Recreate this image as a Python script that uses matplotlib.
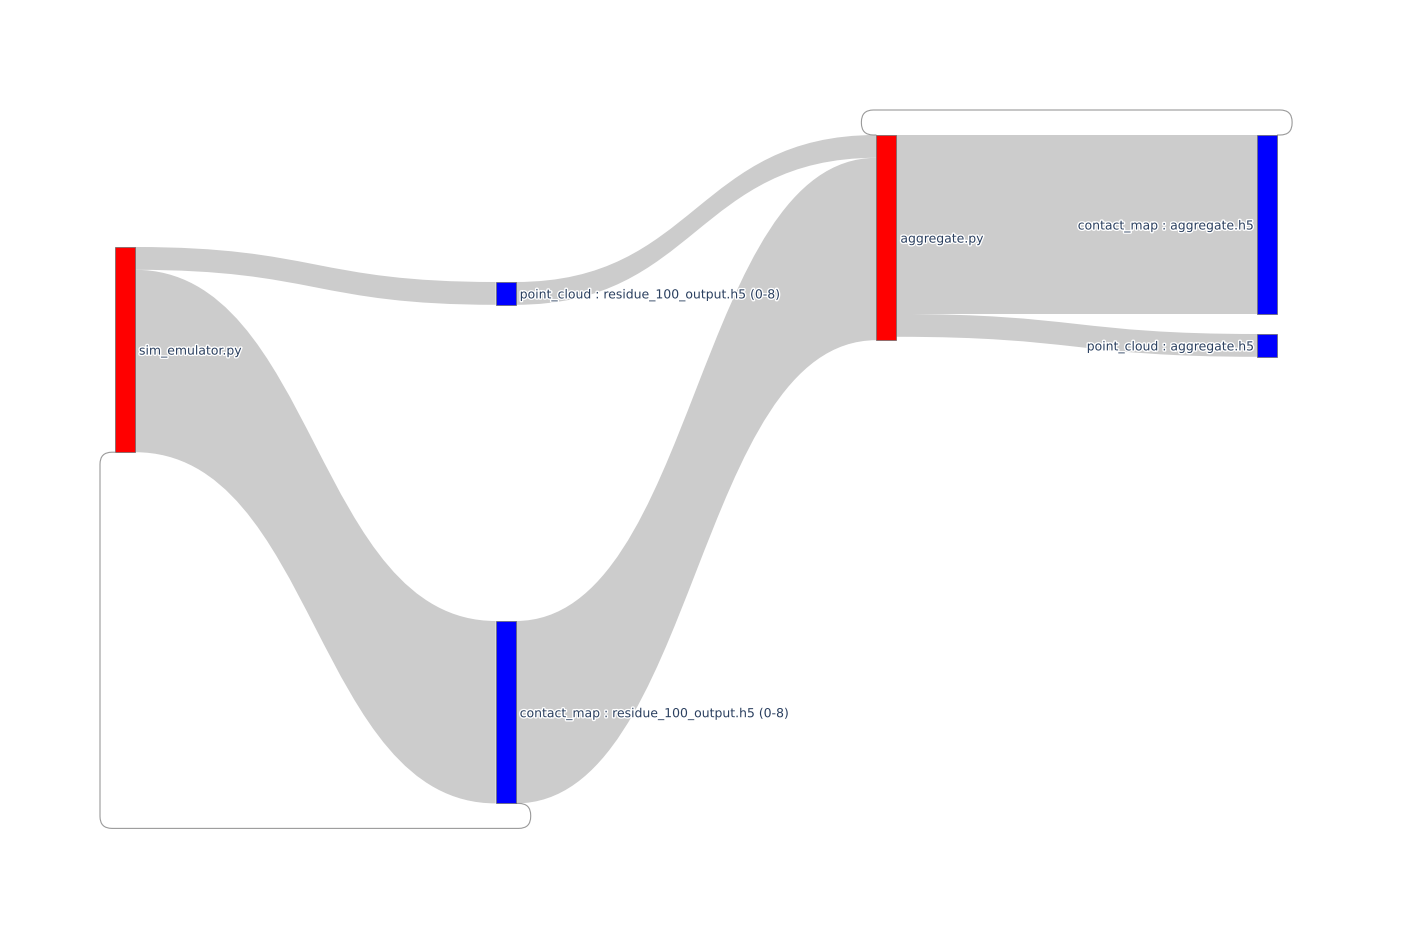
import matplotlib
matplotlib.use("Agg")
import matplotlib.pyplot as plt
from matplotlib.path import Path
from matplotlib.patches import PathPatch, Rectangle
import matplotlib.patheffects as pe

# ---------------- data ----------------
node_labels = [
    "sim_emulator.py",
    "point_cloud : residue_100_output.h5 (0-8)",
    "contact_map : residue_100_output.h5 (0-8)",
    "aggregate.py",
    "contact_map : aggregate.h5",
    "point_cloud : aggregate.h5",
]
node_colors = ["red", "blue", "blue", "red", "blue", "blue"]

link_source = [0, 0, 1, 2, 3, 3, 2, 4]
link_target = [1, 2, 3, 3, 4, 5, 0, 3]
link_value = [1, 8, 1, 8, 7.85, 1, 0, 0]

# ---------------- layout (pixel space) ----------------
W, H = 1424, 948
node_column = [0, 1, 1, 2, 3, 3]
node_top = [247, 282, 621, 135, 135, 334]
col_x0, col_step, node_w = 115, 380.7, 20
px_per_unit = 22.8
loop_side = {6: "bottom", 7: "top"}
loop_dx, loop_dy, loop_r = 15, 25, 12
link_color = "#cccccc"
text_color = "#2a3f5f"

fig = plt.figure(figsize=(W / 100, H / 100), dpi=100)
ax = fig.add_axes([0, 0, 1, 1])
ax.set_xlim(0, W)
ax.set_ylim(H, 0)
ax.axis("off")

n = len(node_labels)
out_sum = [0.0] * n
in_sum = [0.0] * n
for s, t, v in zip(link_source, link_target, link_value):
    out_sum[s] += v
    in_sum[t] += v
node_h = [max(out_sum[i], in_sum[i]) * px_per_unit for i in range(n)]
node_x = [col_x0 + c * col_step for c in node_column]

regular = [k for k in range(len(link_value)) if node_column[link_target[k]] > node_column[link_source[k]]]
src_pos, tgt_pos = {}, {}
for i in range(n):
    outs = sorted([k for k in regular if link_source[k] == i], key=lambda k: node_top[link_target[k]])
    y = node_top[i]
    for k in outs:
        h = link_value[k] * px_per_unit
        src_pos[k] = (y, y + h)
        y += h
    ins = sorted([k for k in regular if link_target[k] == i], key=lambda k: node_top[link_source[k]])
    y = node_top[i]
    for k in ins:
        h = link_value[k] * px_per_unit
        tgt_pos[k] = (y, y + h)
        y += h

# regular ribbons
for k in regular:
    s, t = link_source[k], link_target[k]
    xs = node_x[s] + node_w
    xt = node_x[t]
    xm = (xs + xt) / 2
    s0, s1 = src_pos[k]
    t0, t1 = tgt_pos[k]
    verts = [(xs, s0), (xm, s0), (xm, t0), (xt, t0), (xt, t1), (xm, t1), (xm, s1), (xs, s1), (xs, s0)]
    codes = [Path.MOVETO, Path.CURVE4, Path.CURVE4, Path.CURVE4, Path.LINETO,
             Path.CURVE4, Path.CURVE4, Path.CURVE4, Path.CLOSEPOLY]
    ax.add_patch(PathPatch(Path(verts, codes), facecolor=link_color, edgecolor="none", lw=0, zorder=1))

# circular (backward) links drawn as loops
for k, side in loop_side.items():
    s, t = link_source[k], link_target[k]
    sx = node_x[s] + node_w
    tx = node_x[t]
    xr = sx + loop_dx
    xl = tx - loop_dx
    r = loop_r
    if side == "bottom":
        sy = node_top[s] + node_h[s]
        ty = node_top[t] + node_h[t]
        yb = max(sy, ty) + loop_dy
        sg = 1
    else:
        sy = node_top[s]
        ty = node_top[t]
        yb = min(sy, ty) - loop_dy
        sg = -1
    verts = [(sx, sy), (xr - r, sy), (xr, sy), (xr, sy + sg * r), (xr, yb - sg * r), (xr, yb), (xr - r, yb),
             (xl + r, yb), (xl, yb), (xl, yb - sg * r), (xl, ty + sg * r), (xl, ty), (xl + r, ty), (tx, ty)]
    codes = [Path.MOVETO, Path.LINETO, Path.CURVE3, Path.CURVE3, Path.LINETO, Path.CURVE3, Path.CURVE3,
             Path.LINETO, Path.CURVE3, Path.CURVE3, Path.LINETO, Path.CURVE3, Path.CURVE3, Path.LINETO]
    ax.add_patch(PathPatch(Path(verts, codes), facecolor="none", edgecolor="#9a9a9a", lw=0.8, zorder=2))

# nodes + labels
last_col = max(node_column)
for i in range(n):
    ax.add_patch(Rectangle((node_x[i], node_top[i]), node_w, node_h[i], facecolor=node_colors[i],
                           edgecolor="#666666", lw=0.5, zorder=3))
    yc = node_top[i] + node_h[i] / 2 + 1.5
    if node_column[i] == last_col:
        tx, ha = node_x[i] - 4, "right"
    else:
        tx, ha = node_x[i] + node_w + 4, "left"
    ax.text(tx, yc, node_labels[i], ha=ha, va="center", fontsize=8.95, color=text_color,
            family="DejaVu Sans", zorder=4,
            path_effects=[pe.withStroke(linewidth=2, foreground="white")])

fig.savefig("out.png", dpi=100, facecolor="white")
